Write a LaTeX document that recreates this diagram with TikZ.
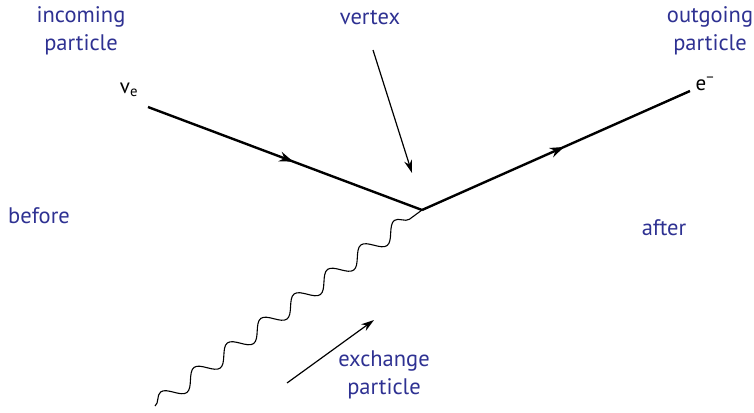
\documentclass[tikz,border=0pt]{standalone}
\usepackage{fontspec}
\setmainfont{PT Sans}
\usetikzlibrary{arrows.meta,decorations.pathmorphing,decorations.markings}
\definecolor{lbl}{RGB}{46,49,146}
\tikzset{
  lbltext/.style={text=lbl,font=\fontsize{22.5}{28}\selectfont,align=center,inner sep=0pt},
  parttext/.style={text=black,font=\fontsize{21}{24}\selectfont,inner sep=0pt},
  fermion/.style={line width=2.4pt,
    postaction={decorate},
    decoration={markings,mark=at position 0.53 with {\arrow{Stealth[length=14pt,width=10pt]}}}},
  pointer/.style={line width=1.2pt,-{Stealth[length=13pt,width=8pt]}},
  boson/.style={line width=1.1pt,decorate,decoration={snake,segment length=41.4pt,amplitude=8pt}}
}
\begin{document}
\begin{tikzpicture}[x=1pt,y=-1pt]
\useasboundingbox (0,0) rectangle (754,412);
\coordinate (v) at (422,210);
\coordinate (in) at (148,107);
\coordinate (out) at (690,91);
\coordinate (w) at (155,406);
\draw[fermion] (in) -- (v);
\draw[fermion] (v) -- (out);
\draw[boson] (w) -- (v);
\node[parttext] (ve) at (129,90) {v\textsubscript{e}};
\node[parttext] (em) at (705,84) {e\textsuperscript{−}};
\node[lbltext] (inc) at (81,31) {incoming\\particle};
\node[lbltext] (vtx) at (370,18) {vertex};
\node[lbltext] (outg) at (710,31) {outgoing\\particle};
\node[lbltext] (bef) at (39,216) {before};
\node[lbltext] (aft) at (664,228) {after};
\node[lbltext] (exc) at (384,375) {exchange\\particle};
\coordinate (p1) at (373,50);
\coordinate (p2) at (412,173);
\draw[pointer] (p1) -- (p2);
\coordinate (q1) at (287,383);
\coordinate (q2) at (374,320);
\draw[pointer] (q1) -- (q2);
\end{tikzpicture}
\end{document}
